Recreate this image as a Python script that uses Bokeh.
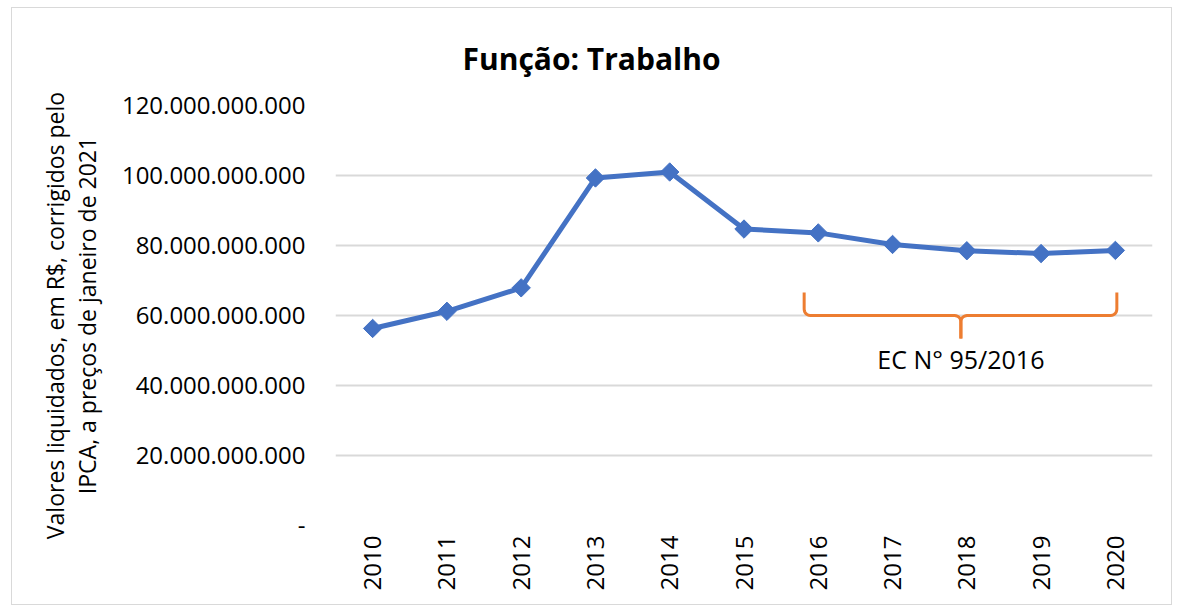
import math
import numpy as np
from bokeh.plotting import figure
from bokeh.models import Range1d, FixedTicker, Label
from bokeh.embed import file_html
from bokeh.resources import INLINE

# ---- data ----
years = [2010, 2011, 2012, 2013, 2014, 2015, 2016, 2017, 2018, 2019, 2020]
values_bn = [56.3, 61.2, 67.9, 99.3, 101.0, 84.7, 83.6, 80.3, 78.5, 77.7, 78.6]
values = [v * 1e9 for v in values_bn]
y_ticks = [0, 20e9, 40e9, 60e9, 80e9, 100e9, 120e9]
y_tick_labels = ["-", "20.000.000.000", "40.000.000.000", "60.000.000.000",
                 "80.000.000.000", "100.000.000.000", "120.000.000.000"]
title_text = "Função: Trabalho"
y_title = "Valores liquidados, em R$, corrigidos pelo\nIPCA, a preços de janeiro de 2021"
brace_text = "EC N° 95/2016"

FONT = "Open Sans"
BLUE = "#4472C4"
ORANGE = "#ED7D31"
GRID = "#d9d9d9"

p = figure(width=1161, height=598, output_backend="svg", toolbar_location=None,
           x_range=Range1d(2009.5, 2020.5), y_range=Range1d(0, 120e9),
           min_border_left=323, min_border_right=21,
           min_border_top=97, min_border_bottom=81)
p.styles = {"border": "1px solid #d9d9d9", "margin-left": "11px", "margin-top": "7px"}
p.outline_line_color = None
p.background_fill_color = "white"
p.border_fill_color = "white"

# title
p.title.text = title_text
p.title.text_font = FONT
p.title.text_font_style = "bold"
p.title.text_font_size = "30px"
p.title.text_color = "black"
p.title.align = "left"
p.title.offset = 127
p.title.standoff = 53

# y axis
p.yaxis.ticker = FixedTicker(ticks=y_ticks)
p.yaxis.major_label_overrides = {t: l for t, l in zip(y_ticks, y_tick_labels)}
p.yaxis.axis_line_color = None
p.yaxis.major_tick_line_color = None
p.yaxis.minor_tick_line_color = None
p.yaxis.major_tick_out = 0
p.yaxis.major_label_standoff = 30
p.yaxis.major_label_text_font = FONT
p.yaxis.major_label_text_font_size = "24px"
p.yaxis.major_label_text_color = "black"
p.yaxis.axis_label = y_title
p.yaxis.axis_label_text_font = FONT
p.yaxis.axis_label_text_font_size = "23px"
p.yaxis.axis_label_text_font_style = "normal"
p.yaxis.axis_label_text_color = "black"
p.yaxis.axis_label_text_line_height = 1.0
p.yaxis.axis_label_standoff = 16

# x axis
p.xaxis.ticker = FixedTicker(ticks=years)
p.xaxis.major_label_orientation = math.pi / 2
p.xaxis.axis_line_color = None
p.xaxis.major_tick_line_color = None
p.xaxis.minor_tick_line_color = None
p.xaxis.major_tick_out = 0
p.xaxis.major_label_standoff = 10
p.xaxis.major_label_text_font = FONT
p.xaxis.major_label_text_font_size = "24px"
p.xaxis.major_label_text_color = "black"

p.xgrid.grid_line_color = None
p.ygrid.grid_line_color = GRID
p.ygrid.grid_line_width = 2

# series
p.line(years, values, line_color=BLUE, line_width=5)
p.scatter(years, values, marker="square", angle=math.pi / 4, size=13,
          fill_color=BLUE, line_color=BLUE)

# brace annotation (2016 -> 2020)
bx0, bx1, bxc = 2015.81, 2020.02, 2017.92
by_top, by_mid, by_tip = 66.6e9, 60.0e9, 53.4e9
rx, ry = 0.1, 2.0e9

def quad(p0, c, p1, n=12):
    t = np.linspace(0, 1, n)
    x = (1 - t) ** 2 * p0[0] + 2 * (1 - t) * t * c[0] + t ** 2 * p1[0]
    y = (1 - t) ** 2 * p0[1] + 2 * (1 - t) * t * c[1] + t ** 2 * p1[1]
    return list(x), list(y)

def half(xe, sgn):
    xs, ys = [xe], [by_top]
    cx, cy = quad((xe, by_mid + ry), (xe, by_mid), (xe + sgn * rx, by_mid))
    xs += cx; ys += cy
    cx, cy = quad((bxc - sgn * rx, by_mid), (bxc, by_mid), (bxc, by_mid - ry))
    xs += cx; ys += cy
    xs.append(bxc); ys.append(by_tip)
    return xs, ys

lx, ly = half(bx0, 1)
rxs, rys = half(bx1, -1)
p.multi_line([lx, rxs], [ly, rys], line_color=ORANGE, line_width=3)

p.add_layout(Label(x=bxc, y=47.7e9, text=brace_text, text_align="center",
                   text_baseline="middle", text_font=FONT, text_font_size="25px",
                   text_color="black"))

open("out.html", "w").write(file_html(p, INLINE))
